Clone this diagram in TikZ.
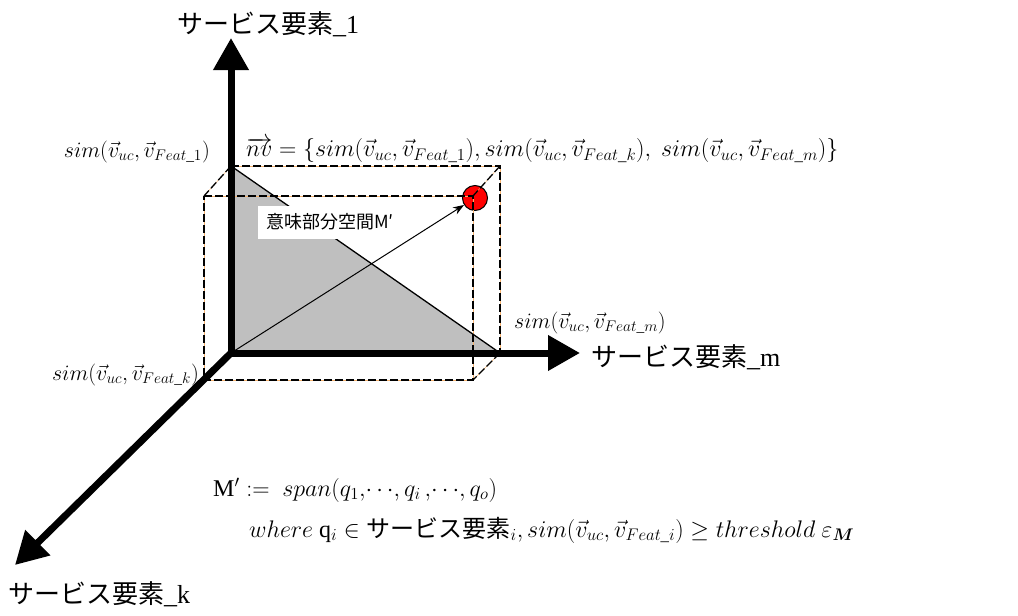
\RequirePackage{fix-cm}
\documentclass[tikz,border=0pt]{standalone}
\usepackage{amsmath}
\usepackage{fontspec}
\setmainfont{Liberation Serif}
\newfontfamily\jpfont{Noto Sans CJK JP}
\usetikzlibrary{arrows.meta}
\definecolor{edgeorange}{RGB}{244,177,110}
\definecolor{planegray}{RGB}{191,191,191}
\newcommand{\simv}[1]{sim(\vec{v}_{uc},\vec{v}_{Feat\_#1})}

\begin{document}
\begin{tikzpicture}[
    x=1pt, y=-1pt,
    axisline/.style={line width=7pt, {Triangle[width=34pt,length=32pt]}-{Triangle[width=34pt,length=32pt]}},
    boxedge/.style={line width=1.3pt, black, dash pattern=on 8pt off 3pt, preaction={draw=edgeorange, solid}},
    simlabel/.style={inner sep=0pt, font=\fontsize{22}{26}\selectfont},
    axislabel/.style={inner sep=0pt, font=\fontsize{26}{30}\selectfont},
]
\useasboundingbox (0,0) rectangle (1018,616);

% corners of the box
\coordinate (O) at (231,353);
\coordinate (ytip) at (231,38);
\coordinate (mtip) at (580,353);
\coordinate (ktip) at (15,565);
\coordinate (bt) at (231,166);
\coordinate (btr) at (500,166);
\coordinate (bbr) at (500,353);
\coordinate (ftl) at (204,196);
\coordinate (ftr) at (473,196);
\coordinate (fbr) at (473,380);
\coordinate (fbl) at (204,380);

\fill[planegray] (bt) -- (O) -- (bbr) -- cycle;

\node[circle, draw=black, line width=1pt, fill=red, minimum size=25pt, inner sep=0pt] (pt) at (475,198) {};

\draw[boxedge] (bt) -- (btr) -- (bbr);
\draw[boxedge] (bt) -- (ftl);
\draw[boxedge] (btr) -- (ftr);
\draw[boxedge] (bbr) -- (fbr);
\draw[boxedge] (ftl) -- (ftr) -- (fbr) -- (fbl) -- cycle;

\draw[axisline] (ytip) -- (O) -- (mtip);
\draw[line width=7pt, -{Triangle[width=34pt,length=32pt]}] (O) -- (ktip);

\draw[line width=1.3pt] (bt) -- (bbr);
\draw[-{Stealth[length=11pt,width=8pt]}, line width=1pt] (O) -- (pt);

\node[fill=white, font=\jpfont\fontsize{18}{20}\selectfont, minimum width=145pt, minimum height=33pt] (subsp) at (330,222) {意味部分空間M′};

\node[axislabel] (ylabel) at (268,24) {{\jpfont サービス要素}\_1};
\node[axislabel, anchor=west] (mlabel) at (591,357) {{\jpfont サービス要素}\_m};
\node[axislabel, anchor=west] (klabel) at (8,594) {{\jpfont サービス要素}\_k};

\node[simlabel, anchor=east] (simone) at (210,152) {$\simv{1}$};
\node[simlabel, anchor=west, font=\fontsize{24}{28}\selectfont] (nvvec) at (246,150) {$\overrightarrow{nv}=\{\simv{1},\simv{k},\ \simv{m}\}$};
\node[simlabel, anchor=west] (simm) at (514,323) {$\simv{m}$};
\node[simlabel, anchor=east] (simk) at (199,375) {$\simv{k}$};

\node[simlabel, anchor=west, font=\fontsize{24}{28}\selectfont] (mdef) at (213,490) {$\mathrm{M}'\mathrel{:=}\ span(q_1,\!\cdots\!,q_i\,,\!\cdots\!,q_o)$};
\node[simlabel, anchor=west, font=\fontsize{24}{28}\selectfont] (mwhere) at (249,530) {$where\ \mathrm{q}_i\in\text{\jpfont サービス要素}_i, \simv{i}\geq threshold\ \varepsilon_{\boldsymbol{M}}$};
\end{tikzpicture}
\end{document}
